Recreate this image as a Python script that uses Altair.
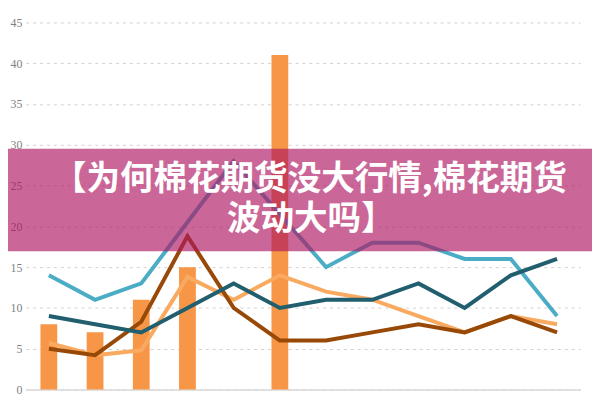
import altair as alt
import pandas as pd

categories = ["1月", "2月", "3月", "4月", "5月", "6月", "7月", "8月", "9月", "10月", "11月", "12月"]
series_names = ["2012/2013年", "2013/2014年", "2014/2015年", "2015/2016年", "2016/2017年"]

bar_values = [8, 7, 11, 15, None, 41, None, None, None, None, None, None]
light_blue = [14, 11, 13, 20.5, 28, 21.5, 15, 18, 18, 16, 16, 9]
dark_teal = [9, 8, 7, 10, 13, 10, 11, 11, 13, 10, 14, 16]
brown = [5, 4.2, 8.3, 18.8, 10, 6, 6, 7, 8, 7, 9, 7]
light_orange = [5.7, 4.2, 4.8, 13.8, 11, 14, 12, 11, 9, 7, 9, 8]

title_lines = ["【为何棉花期货没大行情,棉花期货", "波动大吗】"]

bar_color = "#F79646"
line_specs = [
    (series_names[4], light_orange, "#F9AA60"),
    (series_names[1], light_blue, "#4BACC6"),
    (series_names[3], brown, "#984807"),
    (series_names[2], dark_teal, "#215E6E"),
]

bars_df = pd.DataFrame({"cat": categories, "value": bar_values, "series": series_names[0]}).dropna()

x_enc = alt.X("cat:N", sort=categories,
              scale=alt.Scale(paddingInner=0, paddingOuter=0),
              axis=alt.Axis(title=None, labels=False, ticks=False, grid=False,
                            domain=True, domainColor="#D9D9D9", domainWidth=1.5))
y_scale = alt.Scale(domain=[0, 45])
y_axis = alt.Axis(title=None, values=[0, 5, 10, 15, 20, 25, 30, 35, 40, 45],
                  ticks=False, domain=False, grid=True, gridColor="#D0D0D0",
                  gridDash=[3, 4], gridWidth=1, labelColor="#7F7F7F",
                  labelFont="Liberation Sans Narrow", labelFontSize=12, labelPadding=4)

bars = alt.Chart(bars_df).mark_bar(size=17, color=bar_color).encode(
    x=x_enc,
    y=alt.Y("value:Q", scale=y_scale, axis=y_axis),
)

layers = [bars]
for name, vals, col in line_specs:
    df = pd.DataFrame({"cat": categories, "value": vals, "series": name})
    layers.append(
        alt.Chart(df).mark_line(color=col, strokeWidth=4, strokeJoin="miter").encode(
            x=alt.X("cat:N", sort=categories),
            y=alt.Y("value:Q", scale=y_scale),
        )
    )

banner = alt.Chart(pd.DataFrame({"k": [0]})).mark_rect(
    color="#AF1661", opacity=0.65).encode(
    x=alt.value(-18), x2=alt.value(574), y=alt.value(128), y2=alt.value(232))

text_df = pd.DataFrame({"t": title_lines, "px": [288, 289], "py": [160, 200]})
text = alt.Chart(text_df).mark_text(
    font="Noto Sans CJK SC", fontSize=34, fontWeight="bold", color="white",
    align="center", baseline="middle").encode(
    text="t:N", x=alt.X("px:Q", scale=None), y=alt.Y("py:Q", scale=None))

chart = alt.layer(*layers, banner, text).properties(
    width=562, height=372,
    autosize=alt.AutoSizeParams(type="none"),
    padding={"left": 18, "top": 12, "right": 12, "bottom": 8},
    background="white",
).configure_view(stroke=None)

chart.save("out.html", embed_options={"renderer": "svg", "actions": False})
